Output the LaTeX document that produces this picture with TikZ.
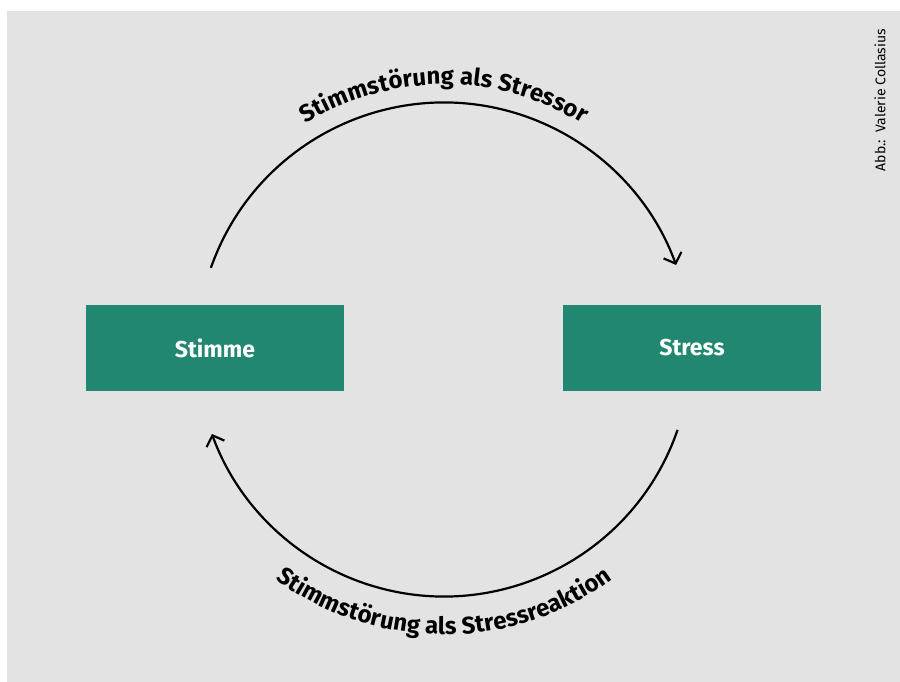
\documentclass[tikz,border=0pt]{standalone}
\usepackage{fontspec}
\setmainfont{Fira Sans}
\usepackage{tikz}
\usetikzlibrary{arrows.meta, decorations.text}
\usepackage{xcolor}
\definecolor{bggray}{RGB}{226,227,226}
\definecolor{teal}{RGB}{33,135,113}

\begin{document}
\begin{tikzpicture}[x=1pt, y=1pt,
    box/.style={fill=teal, minimum width=258pt, minimum height=86pt,
        text=white, font=\bfseries\fontsize{23}{27}\selectfont},
    cycle/.style={line width=2.2pt, -{Straight Barb[length=9pt, width=19pt, line width=2.2pt]}}]
    \useasboundingbox (0,0) rectangle (900,682);
    \fill[bggray] (7,0) rectangle (900,671);

    \coordinate (mid) at (444,332.5);
    \node[box] (stimme) at (215,334) {Stimme};
    \node[box] (stress) at (692,334) {Stress};

    % the two halves of the cycle
    \draw[cycle] ([shift={(160.7:247pt)}]mid) arc[start angle=160.7, end angle=20, radius=247pt];
    \draw[cycle] ([shift={(-19:247pt)}]mid) arc[start angle=-19, end angle=-160, radius=247pt];

    % labels along the arcs
    \path[decorate, decoration={text along path, text align=center,
        text={|\bfseries\fontsize{24}{28}\selectfont|Stimmstörung als Stressor}}]
        ([shift={(150:265pt)}]mid) arc[start angle=150, end angle=30, radius=265pt];
    \path[decorate, decoration={text along path, text align=center,
        text={|\bfseries\fontsize{24}{28}\selectfont|Stimmstörung als Stressreaktion}}]
        ([shift={(-150:285pt)}]mid) arc[start angle=-150, end angle=-30, radius=285pt];

    \node[rotate=90, font=\fontsize{14}{16}\selectfont] (credit) at (880,582) {Abb.:\ \ Valerie Collasius};
\end{tikzpicture}
\end{document}
